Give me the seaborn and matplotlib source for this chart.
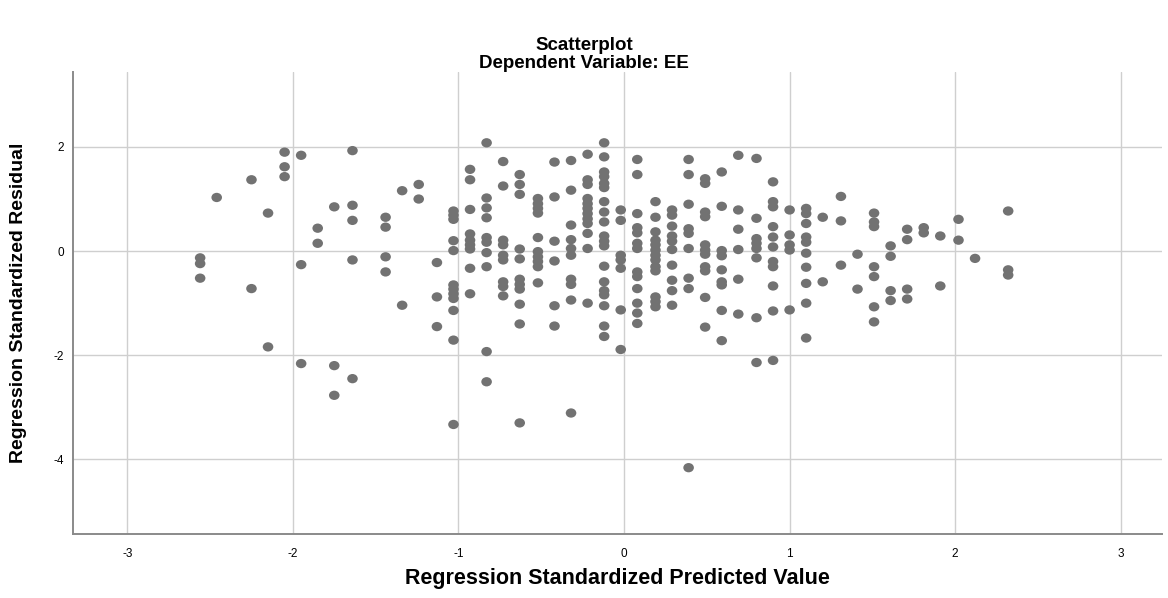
import numpy as np
import pandas as pd
import matplotlib
matplotlib.use("Agg")
import matplotlib.pyplot as plt
from matplotlib.path import Path
from matplotlib.transforms import Affine2D
import seaborn as sns

# predicted value columns (x) and the residuals found in each column (y)
pred_levels = [-2.56, -2.46, -2.25, -2.15, -2.05, -1.95, -1.85, -1.75, -1.64,
               -1.44, -1.34, -1.24, -1.13, -1.03, -0.93, -0.83, -0.73, -0.63,
               -0.52, -0.42, -0.32, -0.22, -0.12, -0.02, 0.08, 0.19, 0.29,
               0.39, 0.49, 0.59, 0.69, 0.80, 0.90, 1.00, 1.10, 1.20, 1.31,
               1.41, 1.51, 1.61, 1.71, 1.81, 1.91, 2.02, 2.12, 2.32]

residuals = [
    [-0.13, -0.24, -0.52],
    [1.03],
    [1.37, -0.72],
    [0.73, -1.84],
    [1.90, 1.62, 1.43],
    [1.84, -0.26, -2.16],
    [0.44, 0.15],
    [0.85, -2.20, -2.77],
    [1.93, 0.88, 0.59, -0.17, -2.45],
    [0.65, 0.46, -0.11, -0.40],
    [1.16, -1.04],
    [1.28, 1.00],
    [-0.22, -0.88, -1.45],
    [0.77, 0.69, 0.61, 0.20, 0.01, -0.65, -0.73, -0.82, -0.91, -1.14, -1.71, -3.33],
    [1.57, 1.37, 0.80, 0.33, 0.21, 0.12, 0.04, -0.33, -0.82],
    [2.08, 1.02, 0.83, 0.64, 0.26, 0.17, -0.03, -0.30, -1.93, -2.51],
    [1.72, 1.25, 0.21, 0.12, -0.08, -0.17, -0.59, -0.68, -0.86],
    [1.47, 1.28, 1.09, 0.04, -0.15, -0.54, -0.64, -0.73, -1.02, -1.40, -3.30],
    [1.01, 0.91, 0.82, 0.73, 0.26, -0.01, -0.11, -0.20, -0.30, -0.61],
    [1.71, 1.04, 0.19, -0.19, -1.05, -1.44],
    [1.74, 1.17, 0.50, 0.22, 0.05, -0.08, -0.54, -0.64, -0.94, -3.11],
    [1.86, 1.37, 1.28, 1.01, 0.91, 0.82, 0.72, 0.62, 0.53, 0.34, 0.05, -1.00],
    [2.08, 1.81, 1.52, 1.43, 1.30, 1.22, 0.95, 0.75, 0.56, 0.29, 0.19, 0.10,
     -0.29, -0.59, -0.76, -0.84, -1.05, -1.44, -1.64],
    [0.79, 0.59, -0.08, -0.17, -0.33, -1.13, -1.89],
    [1.76, 1.47, 0.72, 0.45, 0.35, 0.15, 0.05, -0.40, -0.49, -0.72, -1.00, -1.19, -1.39],
    [0.95, 0.65, 0.37, 0.21, 0.12, 0.02, -0.08, -0.17, -0.30, -0.38, -0.88, -0.97, -1.07],
    [0.79, 0.69, 0.48, 0.29, 0.19, 0.03, -0.27, -0.56, -0.76, -1.04],
    [1.76, 1.47, 0.90, 0.43, 0.34, 0.05, -0.52, -0.72, -4.16],
    [1.39, 1.30, 0.75, 0.66, 0.12, 0.02, -0.06, -0.30, -0.38, -0.89, -1.46],
    [1.52, 0.86, 0.01, -0.09, -0.36, -0.59, -0.65, -1.14, -1.72],
    [1.84, 0.79, 0.42, 0.03, -0.54, -1.21],
    [1.78, 0.63, 0.24, 0.15, 0.05, -0.13, -1.28, -2.14],
    [1.33, 0.95, 0.85, 0.47, 0.27, 0.08, -0.20, -0.30, -0.67, -1.15, -2.10],
    [0.79, 0.31, 0.12, 0.02, -1.13],
    [0.82, 0.72, 0.53, 0.27, 0.17, -0.04, -0.31, -0.62, -1.00, -1.67],
    [0.65, -0.59],
    [1.05, 0.58, -0.27],
    [-0.06, -0.73],
    [0.73, 0.56, 0.47, -0.30, -0.49, -1.07, -1.36],
    [0.10, -0.10, -0.76, -0.95],
    [0.42, 0.22, -0.73, -0.92],
    [0.45, 0.35],
    [0.29, -0.67],
    [0.61, 0.21],
    [-0.14],
    [0.77, -0.36, -0.46],
]

x_ticks = [-3, -2, -1, 0, 1, 2, 3]
y_ticks = [-4, -2, 0, 2]

rows = []
for p, res in zip(pred_levels, residuals):
    for r in res:
        rows.append((p, r))
df = pd.DataFrame(rows, columns=["pred", "resid"])

sns.set_style("white")
plt.rcParams['font.family'] = ['Liberation Sans', 'DejaVu Sans']
plt.rcParams['axes.unicode_minus'] = False
plt.rcParams['text.color'] = 'black'
plt.rcParams['axes.labelcolor'] = 'black'

# dots in the original are a little wider than tall
dot = Path.unit_circle().transformed(Affine2D().scale(1.0, 0.88))

fig = plt.figure(figsize=(11.68, 5.98), dpi=100)
ax = fig.add_axes([0.0622, 0.1065, 0.9328, 0.7731])

sns.scatterplot(data=df, x="pred", y="resid", color="#727272", s=58,
                marker=dot, edgecolor="none", ax=ax, zorder=3)

ax.set_xlim(-3.33, 3.25)
ax.set_ylim(-5.44, 3.44)
ax.set_xticks(x_ticks)
ax.set_yticks(y_ticks)
ax.grid(True, color="#cfcfcf", linewidth=1.0, zorder=0)
ax.set_axisbelow(True)
ax.tick_params(length=0, labelsize=8.5, colors="black")
ax.tick_params(axis="x", pad=10)
ax.tick_params(axis="y", pad=6)

for side in ["top", "right"]:
    ax.spines[side].set_visible(False)
for side in ["left", "bottom"]:
    ax.spines[side].set_color("#8a8a8a")
    ax.spines[side].set_linewidth(1.4)

ax.set_xlabel("Regression Standardized Predicted Value", fontsize=15.5,
              fontweight="bold", va="center")
ax.xaxis.set_label_coords(0.5, -0.0945)
ax.set_ylabel("Regression Standardized Residual", fontsize=14,
              fontweight="bold", va="center")
ax.yaxis.set_label_coords(-0.05, 0.5)

fig.text(0.5, 1 - 45 / 598, "Scatterplot", ha="center", va="center",
         fontsize=13.5, fontweight="bold")
fig.text(0.5, 1 - 63 / 598, "Dependent Variable: EE", ha="center", va="center",
         fontsize=13.5, fontweight="bold")

fig.savefig("out.png", dpi=100)
